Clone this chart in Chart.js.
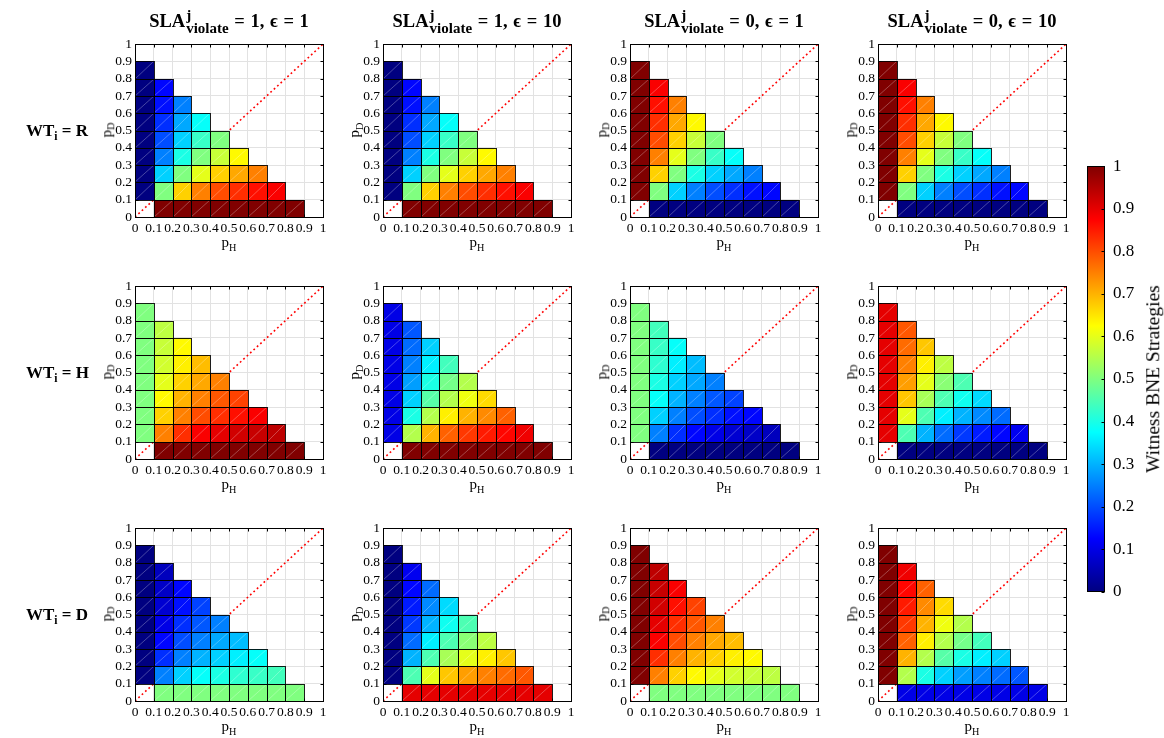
<!DOCTYPE html>
<html>
<head>
<meta charset="utf-8">
<script src="https://cdn.jsdelivr.net/npm/chart.js"></script>
<style>
  html, body { margin: 0; padding: 0; background: #fff; }
  #fig { position: relative; width: 1164px; height: 738px; overflow: hidden; }
  .lbl { position: absolute; font-family: "Liberation Serif", "Times New Roman", serif; color: #000; white-space: nowrap; line-height: 1; }
  .title { font-weight: bold; font-size: 18.5px; line-height: 22px; text-align: center; width: 320px; word-spacing: 1px; }
  .ss { display: inline-block; vertical-align: -6px; text-align: left; font-size: 15px; margin-left: 1px; }
  .ss span { display: block; line-height: 13px; }
  .row { font-weight: bold; font-size: 17px; }
  .sub { font-size: 0.68em; vertical-align: -0.32em; }
  .ax { font-size: 15px; }
</style>
</head>
<body>
<div id="fig"></div>
<script>
// bins (lower edges) for p_H and p_D, and axis ticks
const pBins = [0, 0.1, 0.2, 0.3, 0.4, 0.5, 0.6, 0.7, 0.8, 0.9];
const binW = 0.1;
const tickValues = [0, 0.1, 0.2, 0.3, 0.4, 0.5, 0.6, 0.7, 0.8, 0.9, 1];
const tickLabels = ["0", "0.1", "0.2", "0.3", "0.4", "0.5", "0.6", "0.7", "0.8", "0.9", "1"];

// column / row headers
const slaValues = [1, 1, 0, 0];
const epsValues = [1, 10, 1, 10];
const witnessTypes = ["R", "H", "D"];

// each grid: rows = p_D bin (0..0.8), entries = p_H bin (0..), null = empty cell
const wtR_sla1_eps1 = [
  [null, 1, 1, 1, 1, 1, 1, 1, 1],
  [0, 0.5, 0.67, 0.75, 0.8, 0.83, 0.86, 0.88],
  [0, 0.33, 0.5, 0.6, 0.67, 0.71, 0.75],
  [0, 0.25, 0.4, 0.5, 0.57, 0.63],
  [0, 0.2, 0.33, 0.43, 0.5],
  [0, 0.17, 0.29, 0.38],
  [0, 0.14, 0.25],
  [0, 0.13],
  [0]
];
const wtR_sla1_eps10 = [
  [null, 1, 1, 1, 1, 1, 1, 1, 1],
  [0, 0.5, 0.67, 0.75, 0.8, 0.83, 0.86, 0.88],
  [0, 0.33, 0.5, 0.6, 0.67, 0.71, 0.75],
  [0, 0.25, 0.4, 0.5, 0.57, 0.63],
  [0, 0.2, 0.33, 0.43, 0.5],
  [0, 0.17, 0.29, 0.38],
  [0, 0.14, 0.25],
  [0, 0.13],
  [0]
];
const wtR_sla0_eps1 = [
  [null, 0, 0, 0, 0, 0, 0, 0, 0],
  [1, 0.5, 0.33, 0.25, 0.2, 0.17, 0.14, 0.13],
  [1, 0.67, 0.5, 0.4, 0.33, 0.29, 0.25],
  [1, 0.75, 0.6, 0.5, 0.43, 0.38],
  [1, 0.8, 0.67, 0.57, 0.5],
  [1, 0.83, 0.71, 0.63],
  [1, 0.86, 0.75],
  [1, 0.88],
  [1]
];
const wtR_sla0_eps10 = [
  [null, 0, 0, 0, 0, 0, 0, 0, 0],
  [1, 0.5, 0.33, 0.25, 0.2, 0.17, 0.14, 0.13],
  [1, 0.67, 0.5, 0.4, 0.33, 0.29, 0.25],
  [1, 0.75, 0.6, 0.5, 0.43, 0.38],
  [1, 0.8, 0.67, 0.57, 0.5],
  [1, 0.83, 0.71, 0.63],
  [1, 0.86, 0.75],
  [1, 0.88],
  [1]
];
const wtH_sla1_eps1 = [
  [null, 1, 1, 1, 1, 1, 1, 1, 1],
  [0.5, 0.75, 0.83, 0.88, 0.9, 0.92, 0.93, 0.94],
  [0.5, 0.67, 0.75, 0.8, 0.83, 0.86, 0.88],
  [0.5, 0.63, 0.7, 0.75, 0.79, 0.81],
  [0.5, 0.6, 0.67, 0.71, 0.75],
  [0.5, 0.58, 0.64, 0.69],
  [0.5, 0.57, 0.63],
  [0.5, 0.56],
  [0.5]
];
const wtH_sla1_eps10 = [
  [null, 1, 1, 1, 1, 1, 1, 1, 1],
  [0.1, 0.55, 0.7, 0.78, 0.82, 0.85, 0.87, 0.89],
  [0.1, 0.4, 0.55, 0.64, 0.7, 0.74, 0.78],
  [0.1, 0.33, 0.46, 0.55, 0.61, 0.66],
  [0.1, 0.28, 0.4, 0.49, 0.55],
  [0.1, 0.25, 0.36, 0.44],
  [0.1, 0.23, 0.33],
  [0.1, 0.21],
  [0.1]
];
const wtH_sla0_eps1 = [
  [null, 0, 0, 0, 0, 0, 0, 0, 0],
  [0.5, 0.25, 0.17, 0.13, 0.1, 0.08, 0.07, 0.06],
  [0.5, 0.33, 0.25, 0.2, 0.17, 0.14, 0.13],
  [0.5, 0.38, 0.3, 0.25, 0.21, 0.19],
  [0.5, 0.4, 0.33, 0.29, 0.25],
  [0.5, 0.42, 0.36, 0.31],
  [0.5, 0.43, 0.38],
  [0.5, 0.44],
  [0.5]
];
const wtH_sla0_eps10 = [
  [null, 0, 0, 0, 0, 0, 0, 0, 0],
  [0.9, 0.45, 0.3, 0.23, 0.18, 0.15, 0.13, 0.11],
  [0.9, 0.6, 0.45, 0.36, 0.3, 0.26, 0.23],
  [0.9, 0.68, 0.54, 0.45, 0.39, 0.34],
  [0.9, 0.72, 0.6, 0.51, 0.45],
  [0.9, 0.75, 0.64, 0.56],
  [0.9, 0.77, 0.68],
  [0.9, 0.79],
  [0.9]
];
const wtD_sla1_eps1 = [
  [null, 0.5, 0.5, 0.5, 0.5, 0.5, 0.5, 0.5, 0.5],
  [0, 0.25, 0.33, 0.38, 0.4, 0.42, 0.43, 0.44],
  [0, 0.17, 0.25, 0.3, 0.33, 0.36, 0.38],
  [0, 0.13, 0.2, 0.25, 0.29, 0.31],
  [0, 0.1, 0.17, 0.21, 0.25],
  [0, 0.08, 0.14, 0.19],
  [0, 0.07, 0.13],
  [0, 0.06],
  [0]
];
const wtD_sla1_eps10 = [
  [null, 0.9, 0.9, 0.9, 0.9, 0.9, 0.9, 0.9, 0.9],
  [0, 0.45, 0.6, 0.68, 0.72, 0.75, 0.77, 0.79],
  [0, 0.3, 0.45, 0.54, 0.6, 0.64, 0.68],
  [0, 0.23, 0.36, 0.45, 0.51, 0.56],
  [0, 0.18, 0.3, 0.39, 0.45],
  [0, 0.15, 0.26, 0.34],
  [0, 0.13, 0.23],
  [0, 0.11],
  [0]
];
const wtD_sla0_eps1 = [
  [null, 0.5, 0.5, 0.5, 0.5, 0.5, 0.5, 0.5, 0.5],
  [1, 0.75, 0.67, 0.63, 0.6, 0.58, 0.57, 0.56],
  [1, 0.83, 0.75, 0.7, 0.67, 0.64, 0.63],
  [1, 0.88, 0.8, 0.75, 0.71, 0.69],
  [1, 0.9, 0.83, 0.79, 0.75],
  [1, 0.92, 0.86, 0.81],
  [1, 0.93, 0.88],
  [1, 0.94],
  [1]
];
const wtD_sla0_eps10 = [
  [null, 0.1, 0.1, 0.1, 0.1, 0.1, 0.1, 0.1, 0.1],
  [1, 0.55, 0.4, 0.33, 0.28, 0.25, 0.23, 0.21],
  [1, 0.7, 0.55, 0.46, 0.4, 0.36, 0.33],
  [1, 0.78, 0.64, 0.55, 0.49, 0.44],
  [1, 0.82, 0.7, 0.61, 0.55],
  [1, 0.85, 0.74, 0.66],
  [1, 0.87, 0.78],
  [1, 0.89],
  [1]
];

const panels = [
  [wtR_sla1_eps1, wtR_sla1_eps10, wtR_sla0_eps1, wtR_sla0_eps10],
  [wtH_sla1_eps1, wtH_sla1_eps10, wtH_sla0_eps1, wtH_sla0_eps10],
  [wtD_sla1_eps1, wtD_sla1_eps10, wtD_sla0_eps1, wtD_sla0_eps10]
];

const diagLine = [{ x: 0, y: 0 }, { x: 1, y: 1 }];
const jetStops = [0, 0.125, 0.375, 0.625, 0.875, 1];

// layout
const colLeft = [135, 383, 630, 878];
const rowTop = [43, 285, 527];
const plotW = 188, plotH = 174;
const FONT = '"Liberation Serif", "Times New Roman", serif';

function jet(v) {
  const c = t => Math.round(255 * Math.max(0, Math.min(1, 1.5 - Math.abs(4 * v - t))));
  return "rgb(" + c(3) + "," + c(2) + "," + c(1) + ")";
}

function toCells(grid) {
  const cells = [];
  grid.forEach((row, j) => row.forEach((v, i) => {
    if (v !== null) cells.push({ x: pBins[i] + binW / 2, y: pBins[j] + binW / 2, v: v });
  }));
  return cells;
}

const crisp = p => Math.round(p) + 0.5;

// draws the coloured cells of dataset 1 using the chart scales
const heatCells = {
  id: "heatCells",
  afterDatasetsDraw(chart) {
    const { ctx, scales: { x, y } } = chart;
    const cells = chart.data.datasets[1].data;
    const box = d => ({
      l: Math.round(x.getPixelForValue(d.x - binW / 2)),
      r: Math.round(x.getPixelForValue(d.x + binW / 2)),
      t: Math.round(y.getPixelForValue(d.y + binW / 2)),
      b: Math.round(y.getPixelForValue(d.y - binW / 2))
    });
    ctx.save();
    cells.forEach(d => {
      const b = box(d);
      ctx.fillStyle = jet(d.v);
      ctx.fillRect(b.l, b.t, b.r - b.l, b.b - b.t);
    });
    ctx.strokeStyle = "rgba(255,255,255,0.4)";
    ctx.lineWidth = 0.7;
    cells.forEach(d => {
      const b = box(d);
      ctx.beginPath();
      ctx.moveTo(b.l, b.b);
      ctx.lineTo(b.r, b.t);
      ctx.stroke();
    });
    ctx.strokeStyle = "rgba(0,0,0,0.88)";
    ctx.lineWidth = 1;
    cells.forEach(d => {
      const b = box(d);
      ctx.strokeRect(b.l + 0.5, b.t + 0.5, b.r - b.l, b.b - b.t);
    });
    ctx.restore();
  }
};

// MATLAB-like box with inward ticks on all four sides
const frameBox = {
  id: "frameBox",
  afterDraw(chart) {
    const { ctx, chartArea: a, scales: { x, y } } = chart;
    const L = crisp(a.left), R = crisp(a.right), T = crisp(a.top), B = crisp(a.bottom);
    ctx.save();
    ctx.strokeStyle = "#000";
    ctx.lineWidth = 1;
    ctx.strokeRect(L, T, R - L, B - T);
    ctx.beginPath();
    tickValues.forEach(v => {
      const px = crisp(x.getPixelForValue(v));
      ctx.moveTo(px, B); ctx.lineTo(px, B - 3);
      ctx.moveTo(px, T); ctx.lineTo(px, T + 3);
      const py = crisp(y.getPixelForValue(v));
      ctx.moveTo(L, py); ctx.lineTo(L + 3, py);
      ctx.moveTo(R, py); ctx.lineTo(R - 3, py);
    });
    ctx.stroke();
    ctx.restore();
  }
};

const fig = document.getElementById("fig");

function addCanvas(left, top, w, h) {
  const c = document.createElement("canvas");
  c.width = w; c.height = h;
  c.style.cssText = "position:absolute;left:" + left + "px;top:" + top + "px;width:" + w + "px;height:" + h + "px";
  fig.appendChild(c);
  return c;
}

function addText(html, cls, style) {
  const d = document.createElement("div");
  d.className = "lbl " + cls;
  d.innerHTML = html;
  d.style.cssText = style;
  fig.appendChild(d);
  return d;
}

function axisOpts(isX) {
  return {
    type: "linear",
    min: 0,
    max: 1,
    afterBuildTicks: axis => { axis.ticks = tickValues.map(v => ({ value: v })); },
    afterFit: axis => { if (isX) axis.height = 22; else axis.width = 40; },
    ticks: {
      autoSkip: false,
      maxRotation: 0,
      padding: 3,
      color: "#000",
      font: { family: FONT, size: 13.5 },
      callback: v => tickLabels[tickValues.indexOf(Math.round(v * 10) / 10)]
    },
    grid: { color: "#e2e2e2", lineWidth: 1, drawTicks: false },
    border: { display: false }
  };
}

function makePanel(grid, left, top) {
  const canvas = addCanvas(left - 40, top - 10, 40 + plotW + 10, 10 + plotH + 22);
  new Chart(canvas, {
    type: "scatter",
    data: {
      datasets: [
        {
          type: "line",
          data: diagLine,
          borderColor: "#ff0000",
          borderWidth: 1.6,
          borderDash: [1.8, 2.8],
          pointRadius: 0,
          fill: false
        },
        { data: toCells(grid), pointRadius: 0 }
      ]
    },
    options: {
      responsive: false,
      animation: false,
      events: [],
      layout: { padding: { left: 0, right: 10, top: 10, bottom: 0 } },
      scales: { x: axisOpts(true), y: axisOpts(false) },
      plugins: { legend: { display: false }, tooltip: { enabled: false } }
    },
    plugins: [heatCells, frameBox]
  });
}

panels.forEach((row, r) => {
  row.forEach((grid, c) => {
    const left = colLeft[c], top = rowTop[r];
    makePanel(grid, left, top);
    addText("p<span class='sub'>H</span>", "ax",
      "left:" + (left + plotW / 2) + "px;top:" + (top + plotH + 27) + "px;transform:translate(-50%,-50%)");
    addText("p<span class='sub'>D</span>", "ax",
      "left:" + (left - 27) + "px;top:" + (top + plotH / 2) + "px;transform:translate(-50%,-50%) rotate(-90deg)");
  });
});

// column titles
slaValues.forEach((s, c) => {
  addText("SLA<span class='ss'><span>j</span><span>violate</span></span> = " + s + ", \u03F5 = " + epsValues[c],
    "title", "left:" + (colLeft[c] + plotW / 2 - 160) + "px;top:9px");
});

// row labels
witnessTypes.forEach((w, r) => {
  addText("WT<span class='sub'>i</span> = " + w, "row",
    "left:26px;top:" + (rowTop[r] + plotH / 2 + 2) + "px;transform:translateY(-50%)");
});

// colour bar
const cbCanvas = addCanvas(1080, 148, 75, 462);
new Chart(cbCanvas, {
  type: "scatter",
  data: { datasets: [{ data: jetStops.map(v => ({ x: 0, y: v })), pointRadius: 0 }] },
  options: {
    responsive: false,
    animation: false,
    events: [],
    layout: { padding: { left: 7, right: 0, top: 18, bottom: 18 } },
    scales: {
      x: { display: false, min: -0.5, max: 0.5 },
      y: {
        position: "right",
        min: 0,
        max: 1,
        afterBuildTicks: axis => { axis.ticks = tickValues.map(v => ({ value: v })); },
        afterFit: axis => { axis.width = 50; },
        ticks: {
          padding: 8,
          color: "#000",
          font: { family: FONT, size: 17 },
          callback: v => tickLabels[tickValues.indexOf(Math.round(v * 10) / 10)]
        },
        grid: { display: false, drawTicks: false },
        border: { display: false }
      }
    },
    plugins: { legend: { display: false }, tooltip: { enabled: false } }
  },
  plugins: [{
    id: "colorRamp",
    beforeDatasetsDraw(chart) {
      const { ctx, chartArea: a, scales: { y } } = chart;
      const g = ctx.createLinearGradient(0, y.getPixelForValue(0), 0, y.getPixelForValue(1));
      jetStops.forEach(v => g.addColorStop(v, jet(v)));
      ctx.save();
      ctx.fillStyle = g;
      ctx.fillRect(a.left, a.top, a.right - a.left, a.bottom - a.top);
      const L = crisp(a.left), R = crisp(a.right) - 1, T = crisp(a.top), B = crisp(a.bottom) - 1;
      ctx.strokeStyle = "#000";
      ctx.lineWidth = 1;
      ctx.strokeRect(L, T, R - L, B - T);
      ctx.beginPath();
      tickValues.forEach(v => {
        const py = crisp(y.getPixelForValue(v));
        ctx.moveTo(R, py); ctx.lineTo(R - 3, py);
      });
      ctx.stroke();
      ctx.restore();
    }
  }]
});

addText("Witness BNE Strategies", "",
  "font-size:19.5px;left:1153px;top:379px;transform:translate(-50%,-50%) rotate(-90deg)");
</script>
</body>
</html>
